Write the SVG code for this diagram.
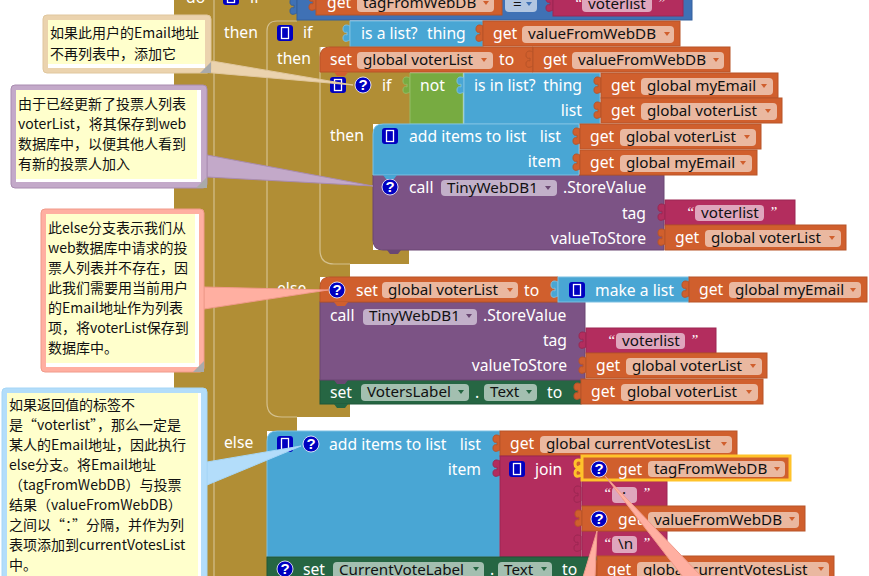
<svg xmlns="http://www.w3.org/2000/svg" xmlns:xlink="http://www.w3.org/1999/xlink" width="869" height="576" viewBox="0 0 869 576">
<style>
text{font-family:"Noto Sans","Open Sans","Noto Sans CJK SC",sans-serif;font-size:15.7px;fill:#fff}
.p{fill:#111;font-size:15.2px}
.e{text-anchor:end}
.q{font-family:"Liberation Sans",sans-serif;font-size:15px;font-weight:bold;text-anchor:middle}
.m{font-family:"Liberation Serif",serif;font-style:italic;font-size:15px}
.c text,text.c{font-family:"Noto Sans CJK SC",sans-serif;font-size:14px;fill:#111}
.o{fill:#D05F2D;stroke:#B85428}.op{fill:#EAB8A0}
.l{fill:#49A6D4;stroke:#7CC0E2}
.u{fill:#7C5385;stroke:#6A4772}.up{fill:#C2B0C9}
.r{fill:#B32D5E;stroke:#9C2752}.rp{fill:#DFA6BD}
.g{fill:#266643;stroke:#1F5638}.gp{fill:#A3BFB0}
.n{fill:#77AB41;stroke:#93BD66}
.k{fill:#3F71B5;stroke:#35619C}.kp{fill:#B2C6E1}
.y{fill:#D05F2D;stroke:#FFC32B;stroke-width:3}
.ln{fill:none;stroke:#D4C08E;stroke-width:1.2}
.t1{fill:#EBD3AE;stroke:#E0C79E}.t2{fill:#C3A9C9;stroke:#A98CB0}.t3{fill:#FFAFA1;stroke:#F09A8A}.t4{fill:#B3DDFA;stroke:#A6D6F6}
.w{fill:#fff;stroke:none}.yel{fill:#FFFFCC;stroke:none}.rz{fill:#AAA;stroke:none}
.to{fill:#D05F2D}.tu{fill:#6A4772}.tg{fill:#266643}.tk{fill:#3F71B5}
</style>
<defs>
<path id="tab" d="M0,5 C-4,3 -7,4 -7,8 C-7,11 -5,12 -3,11 L-3,14 C-5,13 -7,14 -7,17 C-7,21 -4,21 0,19 Z"/>
<path id="foot" d="M0,0 L3,4 H11 L14,0 Z" stroke="none"/>
<path id="tri" d="M-3,-2 H3 L0,2 Z"/>
<g id="mut"><rect x="-8" y="-8" width="16" height="16" rx="3" fill="#0000C0"/><rect x="-3.5" y="-5.5" width="7" height="11" fill="none" stroke="#fff" stroke-width="1.3"/></g>
<circle id="hlp" r="8" fill="#0000C0" stroke="#fff" stroke-width="0.8"/>
</defs>

<g id="control-block">
<path d="M174,0 H297 V20 H350 V47 H320 V72 H410 V124 H373 V250 H409 V264 H350 V277 H320 V404 H350 V417 H297 V431 H267 V576 H174 Z" fill="#B18E35"/>
<path class="ln" d="M214,0 V576"/>
<path class="ln" d="M297,21 H277 Q267,21 267,31 V403 Q267,417 282,417 H297"/>
<path class="ln" d="M320,47 V250 Q320,264 334,264 H350"/>
<text x="186" y="3">do</text><use href="#mut" x="231" y="-3"/><text x="250" y="3">if</text>
<text x="224" y="38">then</text><use href="#mut" x="285" y="33"/><text x="303" y="38">if</text>
<text x="277" y="64">then</text>
<use href="#mut" x="338" y="85"/><use href="#hlp" x="363" y="85"/><text class="q" x="363" y="90">?</text><text x="382" y="91">if</text>
<text x="330" y="141">then</text>
<text x="277" y="294">else</text>
<text x="224" y="448">else</text>
</g>

<g id="if-compare"><use href="#tab" class="k" x="297" y="-6"/><rect class="k" x="297" y="-5" width="395" height="25"/><rect class="kp" x="505" y="-5" width="32" height="17" rx="4"/><text class="p" x="513" y="9">=</text><use href="#tri" class="tk" x="529" y="4"/></g>
<g id="get-tag-top" transform="translate(316,-10)"><use href="#tab" class="o"/><rect class="o" width="186" height="25"/><text x="11" y="18">get</text><rect class="op" x="41" y="5" width="137" height="17" rx="4"/><text class="p" x="47" y="18">tagFromWebDB</text><use href="#tri" class="to" x="170" y="13"/></g>
<g id="str-top" transform="translate(553,-9)"><use href="#tab" class="r"/><rect class="r" width="130" height="25"/><text class="m" x="21" y="17">“</text><rect class="rp" x="29" y="5" width="70" height="16" rx="4"/><text class="p" x="35" y="18">voterlist</text><text class="m" x="104" y="17">”</text></g>

<g id="is-a-list"><use href="#tab" class="l" x="350" y="21"/><rect class="l" x="350" y="21" width="133" height="26"/><text x="361" y="39">is a list?</text><text x="427" y="39">thing</text></g>
<g id="get-value-1" transform="translate(483,21)"><use href="#tab" class="o"/><rect class="o" width="197" height="25"/><text x="10" y="18">get</text><rect class="op" x="39" y="5" width="152" height="17" rx="4"/><text class="p" x="45" y="18">valueFromWebDB</text><use href="#tri" class="to" x="184" y="13"/></g>

<g id="if-not"><use href="#tab" class="n" x="410" y="73"/><rect class="n" x="410" y="73" width="53" height="51"/><text x="420" y="91">not</text></g>
<g id="is-in-list"><use href="#tab" class="l" x="464" y="73"/><rect class="l" x="464" y="73" width="136" height="51"/><text x="474" y="91">is in list?</text><text class="e" x="582" y="91">thing</text><text class="e" x="582" y="116">list</text></g>
<g id="get-myemail-1" transform="translate(601,73)"><use href="#tab" class="o"/><rect class="o" width="177" height="25"/><text x="10" y="18">get</text><rect class="op" x="40" y="5" width="132" height="17" rx="4"/><text class="p" x="46" y="18">global myEmail</text><use href="#tri" class="to" x="163" y="13"/></g>
<g id="get-voterlist-1" transform="translate(601,98)"><use href="#tab" class="o"/><rect class="o" width="181" height="25"/><text x="10" y="18">get</text><rect class="op" x="40" y="5" width="136" height="17" rx="4"/><text class="p" x="46" y="18">global voterList</text><use href="#tri" class="to" x="167" y="13"/></g>

<g id="call-store-1"><path class="u" d="M373,175 H664 V250 H383 Q373,250 373,240 Z"/><use href="#foot" class="tu" x="387" y="250"/><use href="#hlp" x="390" y="187"/><text class="q" x="390" y="192">?</text><text x="409" y="193">call</text><rect class="up" x="441" y="180" width="116" height="16" rx="4"/><text class="p" x="447" y="193">TinyWebDB1</text><use href="#tri" class="tu" x="548" y="188"/><text x="563" y="193">.StoreValue</text><text class="e" x="646" y="219">tag</text><text class="e" x="646" y="244">valueToStore</text></g>
<g id="add-items-1"><path class="l" d="M373,134 Q373,124 383,124 H579 V175 H373 Z"/><use href="#foot" class="l" x="383" y="175" stroke="none"/><use href="#mut" x="390" y="136"/><text x="409" y="142">add items to list</text><text class="e" x="561" y="142">list</text><text class="e" x="561" y="167">item</text></g>
<g id="get-voterlist-2" transform="translate(580,124)"><use href="#tab" class="o"/><rect class="o" width="181" height="25"/><text x="10" y="18">get</text><rect class="op" x="40" y="5" width="136" height="17" rx="4"/><text class="p" x="46" y="18">global voterList</text><use href="#tri" class="to" x="167" y="13"/></g>
<g id="get-myemail-2" transform="translate(580,150)"><use href="#tab" class="o"/><rect class="o" width="177" height="25"/><text x="10" y="18">get</text><rect class="op" x="40" y="5" width="132" height="17" rx="4"/><text class="p" x="46" y="18">global myEmail</text><use href="#tri" class="to" x="163" y="13"/></g>
<g id="str-1" transform="translate(665,200)"><use href="#tab" class="r"/><rect class="r" width="130" height="25"/><text class="m" x="21" y="17">“</text><rect class="rp" x="30" y="5" width="69" height="16" rx="4"/><text class="p" x="36" y="18">voterlist</text><text class="m" x="104" y="17">”</text></g>
<g id="get-voterlist-3" transform="translate(665,225)"><use href="#tab" class="o"/><rect class="o" width="181" height="25"/><text x="10" y="18">get</text><rect class="op" x="40" y="5" width="136" height="17" rx="4"/><text class="p" x="46" y="18">global voterList</text><use href="#tri" class="to" x="167" y="13"/></g>

<g id="set-voterlist-value"><path class="o" d="M320,57 Q320,47 330,47 H533 V72 H320 Z"/><use href="#foot" class="to" x="334" y="72"/><text x="330" y="65">set</text><rect class="op" x="357" y="52" width="136" height="17" rx="4"/><text class="p" x="363" y="65">global voterList</text><use href="#tri" class="to" x="484" y="60"/><text x="499" y="65">to</text></g>
<g id="get-value-2" transform="translate(533,47)"><use href="#tab" class="o"/><rect class="o" width="197" height="25"/><text x="10" y="18">get</text><rect class="op" x="39" y="5" width="152" height="17" rx="4"/><text class="p" x="45" y="18">valueFromWebDB</text><use href="#tri" class="to" x="183" y="13"/></g>

<g id="set-voters-label"><rect class="g" x="320" y="380" width="261" height="24"/><use href="#foot" class="tg" x="334" y="404"/><text x="330" y="398">set</text><rect class="gp" x="361" y="384" width="108" height="17" rx="4"/><text class="p" x="367" y="397">VotersLabel</text><use href="#tri" class="tg" x="461" y="392"/><text x="475" y="398">.</text><rect class="gp" x="484" y="384" width="53" height="17" rx="4"/><text class="p" x="490" y="397">Text</text><use href="#tri" class="tg" x="529" y="392"/><text x="547" y="398">to</text></g>
<g id="call-store-2"><rect class="u" x="320" y="302" width="265" height="78"/><use href="#foot" class="tu" x="334" y="380"/><text x="330" y="321">call</text><rect class="up" x="363" y="309" width="114" height="16" rx="4"/><text class="p" x="369" y="321">TinyWebDB1</text><use href="#tri" class="tu" x="469" y="316"/><text x="483" y="321">.StoreValue</text><text class="e" x="567" y="346">tag</text><text class="e" x="567" y="371">valueToStore</text></g>
<g id="set-voterlist-new"><path class="o" d="M320,287 Q320,277 330,277 H558 V302 H320 Z"/><use href="#foot" class="to" x="334" y="302"/><use href="#hlp" x="337" y="290"/><text class="q" x="337" y="295">?</text><text x="356" y="296">set</text><rect class="op" x="382" y="282" width="136" height="16" rx="4"/><text class="p" x="388" y="295">global voterList</text><use href="#tri" class="to" x="510" y="290"/><text x="524" y="296">to</text></g>
<g id="make-a-list"><use href="#tab" class="l" x="558" y="277"/><rect class="l" x="558" y="277" width="131" height="25"/><use href="#mut" x="577" y="290"/><text x="595" y="296">make a list</text></g>
<g id="get-myemail-3" transform="translate(689,277)"><use href="#tab" class="o"/><rect class="o" width="178" height="25"/><text x="10" y="18">get</text><rect class="op" x="40" y="5" width="132" height="16" rx="4"/><text class="p" x="46" y="18">global myEmail</text><use href="#tri" class="to" x="164" y="13"/></g>
<g id="str-2" transform="translate(586,328)"><use href="#tab" class="r"/><rect class="r" width="130" height="25"/><text class="m" x="21" y="17">“</text><rect class="rp" x="30" y="5" width="69" height="16" rx="4"/><text class="p" x="36" y="18">voterlist</text><text class="m" x="104" y="17">”</text></g>
<g id="get-voterlist-4" transform="translate(586,353)"><use href="#tab" class="o"/><rect class="o" width="181" height="25"/><text x="10" y="18">get</text><rect class="op" x="40" y="5" width="136" height="17" rx="4"/><text class="p" x="46" y="18">global voterList</text><use href="#tri" class="to" x="167" y="13"/></g>
<g id="get-voterlist-5" transform="translate(581,379)"><use href="#tab" class="o"/><rect class="o" width="182" height="25"/><text x="10" y="18">get</text><rect class="op" x="40" y="5" width="137" height="17" rx="4"/><text class="p" x="46" y="18">global voterList</text><use href="#tri" class="to" x="168" y="13"/></g>

<g id="add-items-2"><path class="l" d="M267,441 Q267,431 277,431 H500 V557 H267 Z"/><use href="#foot" class="l" x="277" y="557" stroke="none"/><use href="#mut" x="285" y="444"/><use href="#hlp" x="311" y="444"/><text class="q" x="311" y="449">?</text><text x="329" y="450">add items to list</text><text class="e" x="481" y="450">list</text><text class="e" x="481" y="475">item</text></g>
<g id="get-currentvotes" transform="translate(500,431)"><use href="#tab" class="o"/><rect class="o" width="237" height="25"/><text x="10" y="18">get</text><rect class="op" x="40" y="5" width="192" height="17" rx="4"/><text class="p" x="46" y="18">global currentVotesList</text><use href="#tri" class="to" x="224" y="13"/></g>
<g id="join"><use href="#tab" class="r" x="500" y="456"/><rect class="r" x="500" y="456" width="81" height="101"/><use href="#mut" x="517" y="469"/><text x="535" y="475">join</text><use href="#tab" class="r" x="581" y="482"/><use href="#tab" class="r" x="581" y="531"/></g>
<g id="str-colon"><rect class="r" x="582" y="481" width="85" height="25"/><text class="m" x="603" y="498">“</text><rect class="rp" x="612" y="487" width="25" height="16" rx="4"/><text class="p" x="622" y="500">:</text><text class="m" x="642" y="498">”</text></g>
<g id="str-newline"><rect class="r" x="582" y="531" width="85" height="26"/><text class="m" x="603" y="548">“</text><rect class="rp" x="612" y="536" width="25" height="17" rx="4"/><text class="p" x="618" y="549">\n</text><text class="m" x="642" y="548">”</text></g>
<g id="get-tag" transform="translate(582,456)"><use href="#tab" class="y"/><rect class="y" width="208" height="24"/><use href="#hlp" x="17" y="13"/><text class="q" x="17" y="18">?</text><text x="36" y="19">get</text><rect class="op" x="66" y="5" width="137" height="16" rx="4"/><text class="p" x="72" y="18">tagFromWebDB</text><use href="#tri" class="to" x="195" y="13"/></g>
<g id="get-value-3" transform="translate(582,506)"><use href="#tab" class="o"/><rect class="o" width="223" height="25"/><use href="#hlp" x="17" y="13"/><text class="q" x="17" y="18">?</text><text x="36" y="19">get</text><rect class="op" x="66" y="6" width="151" height="16" rx="4"/><text class="p" x="72" y="19">valueFromWebDB</text><use href="#tri" class="to" x="210" y="13"/></g>
<g id="set-currentvote"><rect class="g" x="267" y="557" width="330" height="30"/><use href="#hlp" x="285" y="569"/><text class="q" x="285" y="574">?</text><text x="303" y="575">set</text><rect class="gp" x="333" y="562" width="151" height="17" rx="4"/><text class="p" x="339" y="575">CurrentVoteLabel</text><use href="#tri" class="tg" x="476" y="569"/><text x="490" y="575">.</text><rect class="gp" x="498" y="562" width="54" height="17" rx="4"/><text class="p" x="504" y="575">Text</text><use href="#tri" class="tg" x="544" y="569"/><text x="562" y="575">to</text></g>
<g id="get-currentvotes-2" transform="translate(597,556)"><use href="#tab" class="o"/><rect class="o" width="237" height="30"/><text x="10" y="19">get</text><rect class="op" x="40" y="6" width="192" height="17" rx="4"/><text class="p" x="46" y="19">global currentVotesList</text><use href="#tri" class="to" x="224" y="13"/></g>

<g id="connectors">
<polygon class="t1" points="212,61 202,72 353,85"/>
<polygon class="t2" points="207,155 207,177 373,186"/>
<polygon class="t3" points="204,287 204,309 328,290"/>
<polygon class="t4" points="207,462 207,485 301,446"/>
<polygon class="t3" points="605,476 683,577 702,577"/>
<polygon class="t3" points="597,531 583,577 595,577"/>
</g>

<g id="comment-1" class="c"><rect class="t1" x="43" y="15" width="168" height="58" rx="4"/><rect class="w" x="48" y="20" width="157" height="48"/><rect class="yel" x="48" y="20" width="157" height="44"/><polygon class="rz" points="211,62 211,73 200,73"/><text x="50" y="38">如果此用户的Email地址</text><text x="50" y="59">不再列表中，添加它</text></g>
<g id="comment-2" class="c"><rect class="t2" x="11" y="85" width="196" height="103" rx="4"/><rect class="w" x="16" y="90" width="185" height="92"/><rect class="yel" x="16" y="90" width="181" height="89"/><polygon class="rz" points="207,177 207,188 196,188"/><text x="18" y="109">由于已经更新了投票人列表</text><text x="18" y="129">voterList，将其保存到web</text><text x="18" y="149">数据库中，以便其他人看到</text><text x="18" y="169">有新的投票人加入</text></g>
<g id="comment-3" class="c"><rect class="t3" x="41" y="209" width="163" height="163" rx="4"/><rect class="w" x="46" y="214" width="153" height="153"/><rect class="yel" x="46" y="214" width="149" height="149"/><polygon class="rz" points="204,361 204,372 193,372"/><text x="48" y="233">此else分支表示我们从</text><text x="48" y="253">web数据库中请求的投</text><text x="48" y="273">票人列表并不存在，因</text><text x="48" y="293">此我们需要用当前用户</text><text x="48" y="313">的Email地址作为列表</text><text x="48" y="333">项，将voterList保存到</text><text x="48" y="353">数据库中。</text></g>
<g id="comment-4" class="c"><rect class="t4" x="2" y="388" width="205" height="200" rx="4"/><rect class="w" x="7" y="393" width="194" height="190"/><rect class="yel" x="7" y="393" width="191" height="190"/><text x="9" y="410">如果返回值的标签不</text><text x="9" y="430">是“voterlist”，那么一定是</text><text x="9" y="450">某人的Email地址，因此执行</text><text x="9" y="470">else分支。将Email地址</text><text x="9" y="490">（tagFromWebDB）与投票</text><text x="9" y="510">结果（valueFromWebDB）</text><text x="9" y="530">之间以“：”分隔，并作为列</text><text x="9" y="550">表项添加到currentVotesList</text><text x="9" y="570">中。</text></g>
</svg>
